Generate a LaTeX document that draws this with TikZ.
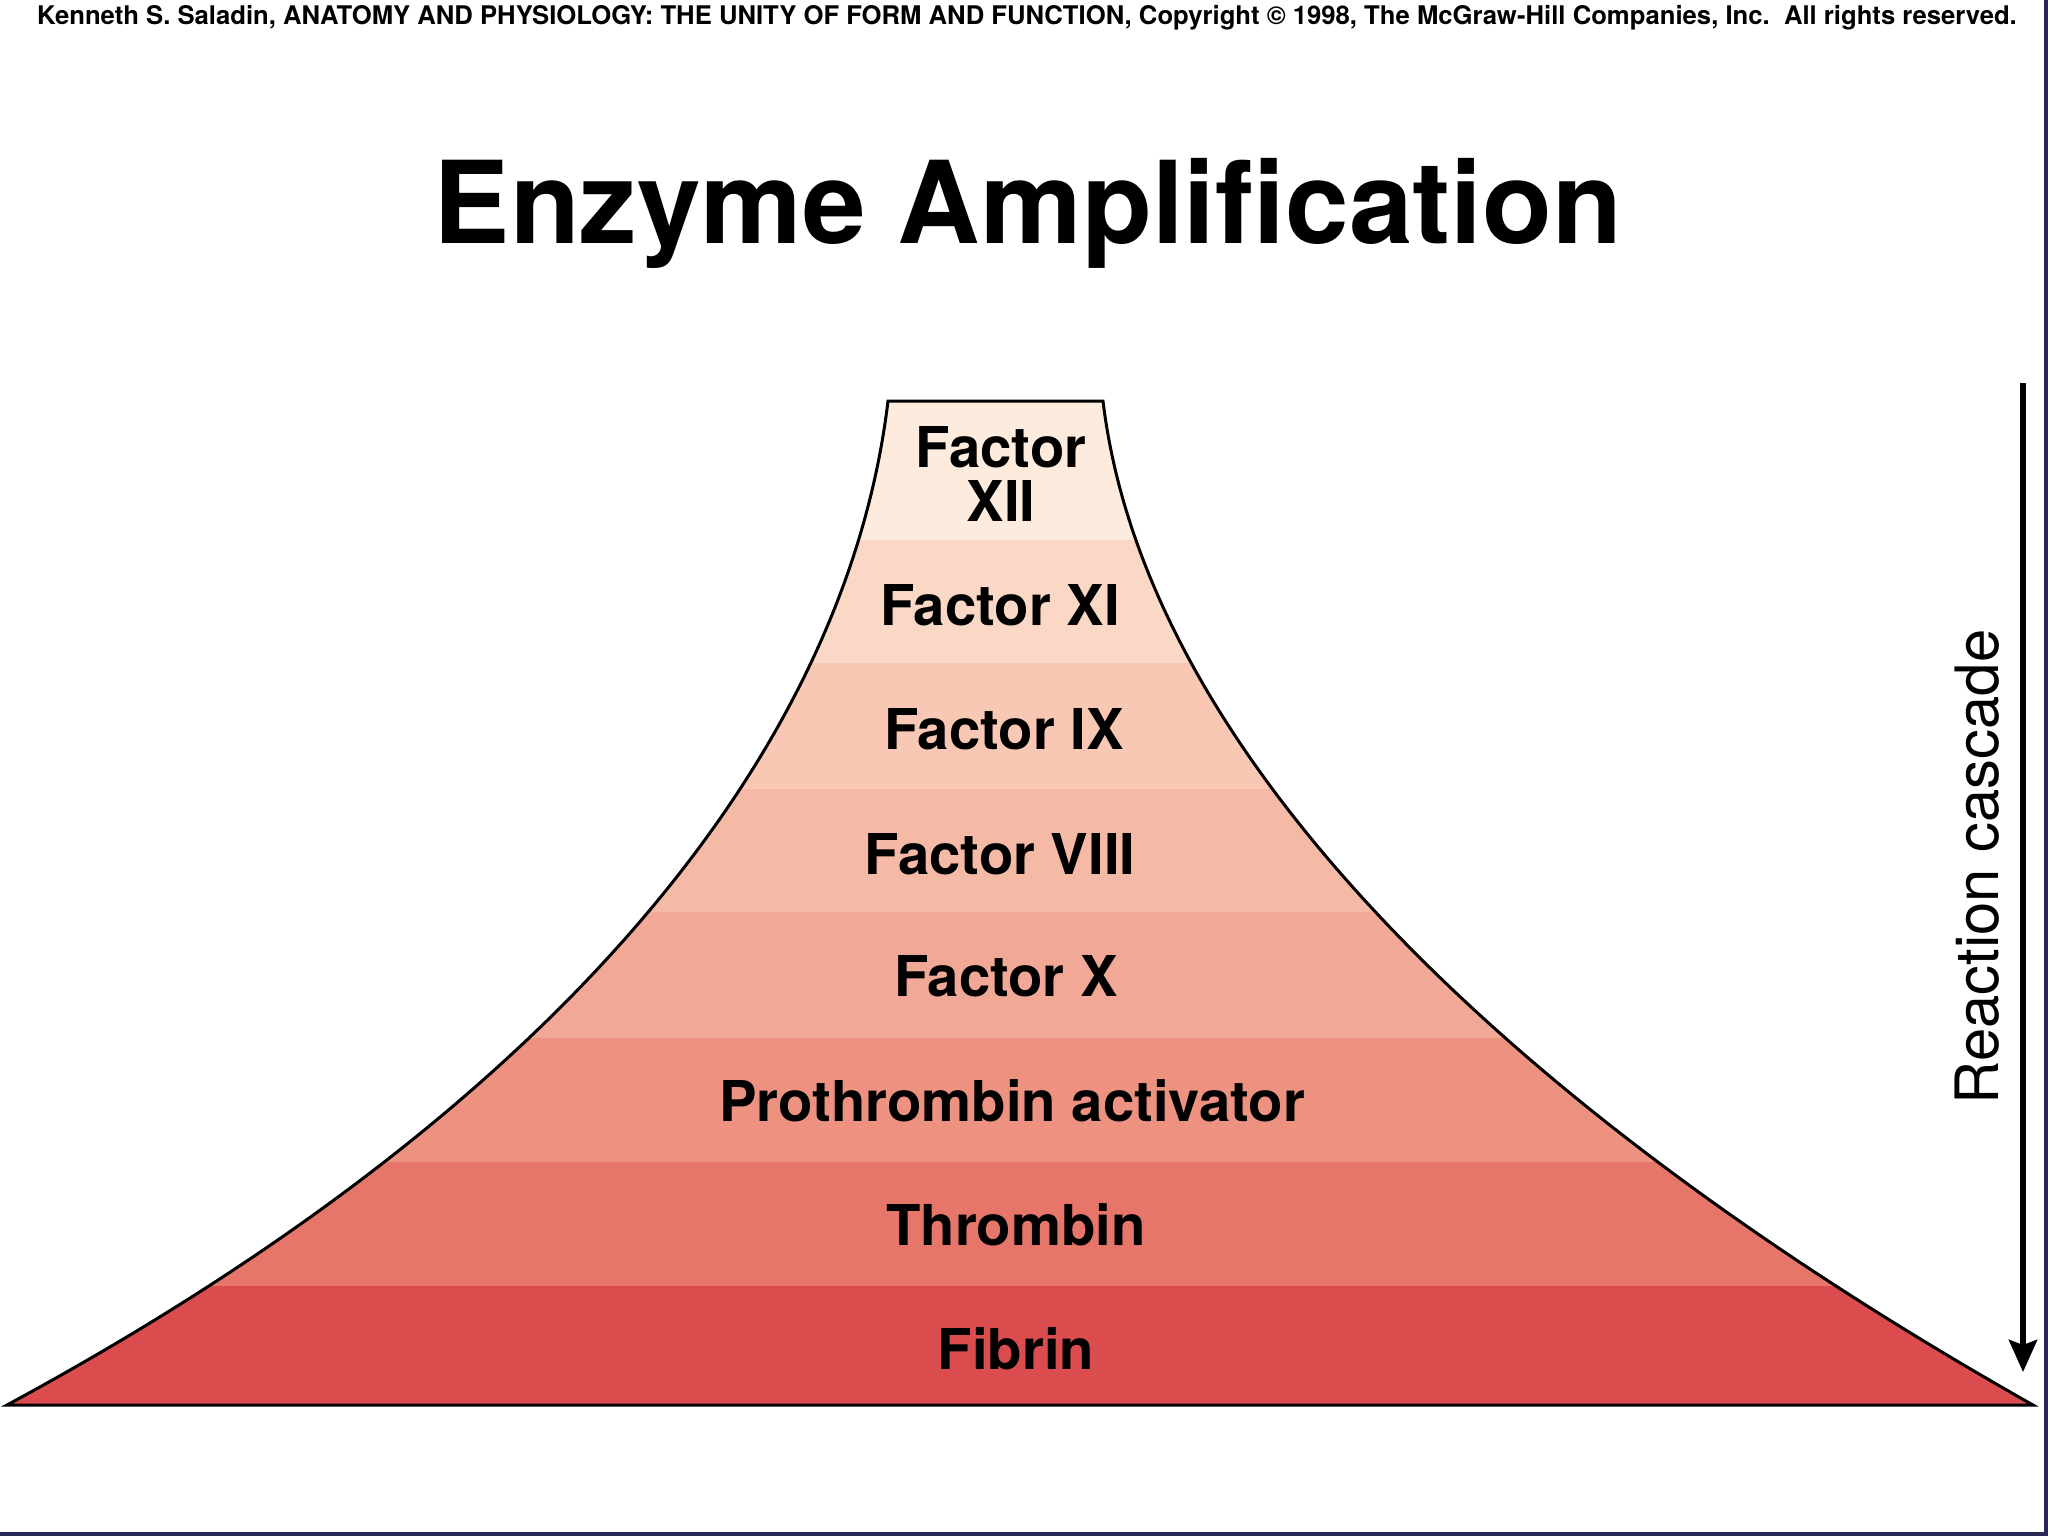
\documentclass[tikz,border=0pt]{standalone}
\usepackage{fontspec}
\setmainfont{TeX Gyre Heros}
\usetikzlibrary{arrows.meta}

\definecolor{bandA}{RGB}{253,236,222}
\definecolor{bandB}{RGB}{251,216,197}
\definecolor{bandC}{RGB}{248,200,180}
\definecolor{bandD}{RGB}{245,186,166}
\definecolor{bandE}{RGB}{241,168,150}
\definecolor{bandF}{RGB}{237,146,129}
\definecolor{bandG}{RGB}{231,118,106}
\definecolor{bandH}{RGB}{219,76,79}
\definecolor{frame}{RGB}{42,40,88}

\begin{document}
\begin{tikzpicture}[x=0.01cm,y=-0.01cm,
    layer/.style={font=\bfseries\fontsize{16}{15.5}\selectfont, align=center, inner sep=0pt}]%
    \useasboundingbox (0,0) rectangle (2048,1536);
    \fill[white] (0,0) rectangle (2048,1536);
    \fill[frame] (2044,0) rectangle (2048,1536);
    \fill[frame] (0,1532) rectangle (2048,1536);
    \node[anchor=base, font=\bfseries\fontsize{7.3}{8}\selectfont] (credit) at (1027,24)
        {Kenneth S. Saladin, ANATOMY AND PHYSIOLOGY: THE UNITY OF FORM AND FUNCTION, Copyright \textcopyright{} 1998, The McGraw-Hill Companies, Inc.\ \ All rights reserved.};
    \node[anchor=base, font=\bfseries\fontsize{32.5}{38}\selectfont] (title) at (1028,243) {Enzyme Amplification};
    % pyramid outline, left side up and right side down
    \def\pyr{(7,1405) .. controls (562,1105) and (846,751) .. (888,401)
        -- (1103,401) .. controls (1145,751) and (1502,1105) .. (2033,1405) -- cycle}
    \begin{scope}
        \clip \pyr;
        \foreach \ya/\yb/\c in {401/540/bandA, 540/663/bandB, 663/789/bandC, 789/912/bandD,
            912/1038/bandE, 1038/1162/bandF, 1162/1286/bandG, 1286/1410/bandH}
            \fill[\c] (0,\ya) rectangle (2048,\yb);
    \end{scope}
    \draw[line width=0.03cm] \pyr;
    \node[layer] (f12) at (1001,474) {Factor\\XII};
    \node[layer] (f11) at (1000,605) {Factor XI};
    \node[layer] (f9) at (1004,729) {Factor IX};
    \node[layer] (f8) at (1000,854) {Factor VIII};
    \node[layer] (f10) at (1006,976) {Factor X};
    \node[layer] (pact) at (1012,1101) {Prothrombin activator};
    \node[layer] (thromb) at (1016,1225) {Thrombin};
    \node[layer] (fibrin) at (1016,1349) {Fibrin};
    % cascade arrow
    \coordinate (cascadetop) at (2023,383);
    \coordinate (cascadeend) at (2023,1372);
    \draw[line width=0.06cm, -{Stealth[length=0.32cm, width=0.28cm, inset=0.05cm]}] (cascadetop) -- (cascadeend);
    \node[rotate=90, font=\fontsize{17}{20}\selectfont, inner sep=0pt] (cascade) at (1977,867) {Reaction cascade};
\end{tikzpicture}
\end{document}
